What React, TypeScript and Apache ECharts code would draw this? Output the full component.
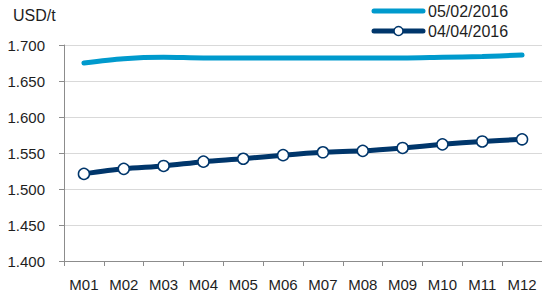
import React, { useEffect, useRef } from "react";
import * as echarts from "echarts";

const categories = ["M01", "M02", "M03", "M04", "M05", "M06", "M07", "M08", "M09", "M10", "M11", "M12"];
const seriesFeb = [1.675, 1.681, 1.683, 1.682, 1.682, 1.682, 1.682, 1.682, 1.682, 1.683, 1.684, 1.686];
const seriesApr = [1.521, 1.528, 1.532, 1.538, 1.542, 1.547, 1.551, 1.553, 1.557, 1.562, 1.566, 1.569];
const seriesNames = ["05/02/2016", "04/04/2016"];
const yUnit = "USD/t";

const FONT = "Liberation Sans";
const LIGHT = "#009ACD";
const DARK = "#00366B";
const TEXT = "#1E1E1E";

export default function App() {
  const ref = useRef<HTMLDivElement>(null);
  useEffect(() => {
    if (!ref.current) return;
    const chart = echarts.init(ref.current, null, { renderer: "svg" });
    chart.setOption({
      animation: false,
      textStyle: { fontFamily: FONT },
      grid: { left: 64, top: 45, bottom: 34, width: 484, containLabel: false },
      legend: { show: false, data: seriesNames },
      graphic: [
        {
          type: "text",
          x: 13,
          y: 15,
          style: { text: yUnit, font: `16px "${FONT}"`, fill: TEXT, verticalAlign: "middle" },
        },
        {
          type: "line",
          shape: { x1: 374, y1: 11, x2: 423, y2: 11 },
          style: { stroke: LIGHT, lineWidth: 5, lineCap: "round" },
        },
        {
          type: "text",
          x: 428,
          y: 11,
          style: { text: seriesNames[0], font: `16px "${FONT}"`, fill: TEXT, verticalAlign: "middle" },
        },
        {
          type: "line",
          shape: { x1: 374, y1: 31, x2: 423, y2: 31 },
          style: { stroke: DARK, lineWidth: 5, lineCap: "round" },
        },
        {
          type: "circle",
          shape: { cx: 398.5, cy: 31, r: 4.5 },
          style: { fill: "#fff", stroke: DARK, lineWidth: 1.5 },
        },
        {
          type: "text",
          x: 428,
          y: 31,
          style: { text: seriesNames[1], font: `16px "${FONT}"`, fill: TEXT, verticalAlign: "middle" },
        },
      ],
      xAxis: {
        type: "category",
        data: categories,
        boundaryGap: true,
        axisLine: { show: true, lineStyle: { color: "#8C8C8C", width: 1 } },
        axisTick: { show: true, length: 5, lineStyle: { color: "#8C8C8C" } },
        axisLabel: { fontFamily: FONT, fontSize: 15, color: TEXT, margin: 16 },
        splitLine: { show: false },
      },
      yAxis: {
        type: "value",
        min: 1.4,
        max: 1.7,
        interval: 0.05,
        axisLine: { show: true, lineStyle: { color: "#8C8C8C", width: 1 } },
        axisTick: { show: true, length: 5, lineStyle: { color: "#8C8C8C" } },
        axisLabel: {
          fontFamily: FONT,
          fontSize: 15,
          color: TEXT,
          margin: 19,
          formatter: (v: number) => v.toFixed(3),
        },
        splitLine: { show: true, lineStyle: { color: "#D9D9D9", width: 1 } },
      },
      series: [
        {
          name: seriesNames[0],
          type: "line",
          data: seriesFeb,
          smooth: 0.3,
          symbol: "none",
          lineStyle: { color: LIGHT, width: 5, cap: "round" },
          itemStyle: { color: LIGHT },
        },
        {
          name: seriesNames[1],
          type: "line",
          data: seriesApr,
          smooth: 0.3,
          symbol: "circle",
          symbolSize: 11,
          showSymbol: true,
          lineStyle: { color: DARK, width: 5, cap: "round" },
          itemStyle: { color: "#fff", borderColor: DARK, borderWidth: 1.5 },
        },
      ],
    });
    return () => chart.dispose();
  }, []);
  return <div ref={ref} style={{ width: 542, height: 295, position: "absolute", left: 0, top: 0 }} />;
}
